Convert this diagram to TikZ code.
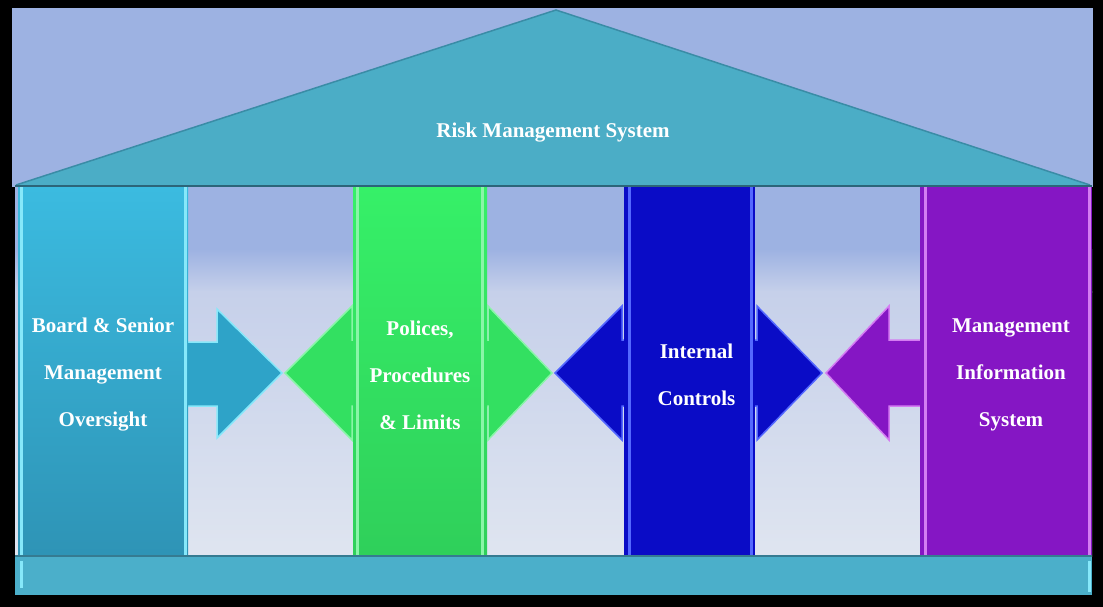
\documentclass[tikz,border=0pt]{standalone}
\usepackage{fontspec}
\setmainfont{Liberation Serif}
\usepackage{tikz}
\definecolor{sky_back}{HTML}{9DB2E2}
\definecolor{sky_low}{HTML}{C6D0EA}
\definecolor{sky_floor}{HTML}{DFE5F0}
\definecolor{roof_teal}{HTML}{4BADC6}
\definecolor{roof_edge}{HTML}{3A8CA6}
\definecolor{beam_dark}{HTML}{2C6579}
\definecolor{base_teal}{HTML}{4BAFCA}
\definecolor{cyan_top}{HTML}{3BBBE0}
\definecolor{cyan_low}{HTML}{2E93B5}
\definecolor{cyan_hi}{HTML}{86E8FA}
\definecolor{cyan_arrow}{HTML}{2EA3C8}
\definecolor{green_top}{HTML}{36F068}
\definecolor{green_low}{HTML}{2FCF5A}
\definecolor{green_hi}{HTML}{8AF5A8}
\definecolor{green_arrow}{HTML}{33E061}
\definecolor{blue_fill}{HTML}{0A0CC6}
\definecolor{blue_hi}{HTML}{5468FF}
\definecolor{purple_fill}{HTML}{8516C4}
\definecolor{purple_hi}{HTML}{D47CF2}
\tikzset{
    pillar/.style={rectangle, inner sep=0pt, minimum height=376pt, align=center, text=white, font=\bfseries\fontsize{21}{47}\selectfont},
    label/.style={text=white, font=\bfseries\fontsize{21}{25}\selectfont},
    flow/.style={line width=1.5pt, line join=miter},
    glint/.style={line width=3pt}
}

\begin{document}
\begin{tikzpicture}[x=1pt, y=-1pt]
        % frame and sky
        \fill[black] (0,0) rectangle (1103,607);
        \useasboundingbox (0,0) rectangle (1103,607);
        \fill[sky_back] (12,8) rectangle (1093,187);
        \fill[sky_back] (15,186) rectangle (1092,250);
        \shade[top color=sky_back, bottom color=sky_low] (15,249) rectangle (1092,292);
        \shade[top color=sky_low, bottom color=sky_floor] (15,291) rectangle (1092,556);

        % roof
        \fill[roof_teal] (16,185) -- (556,10) -- (1090,185) -- cycle;
        \draw[roof_edge, line width=1.5pt] (16,185) -- (556,10) -- (1090,185);
        \node (roof_title) [label] at (553,133) {Risk Management System};

        % arrows between the pillars
        \draw[flow, fill=cyan_arrow, draw=cyan_hi] (185,342) -- (217,342) -- (217,309) -- (282,373) -- (217,438) -- (217,406) -- (185,406) -- cycle;
        \draw[flow, fill=green_arrow, draw=green_hi] (285,373) -- (352,306) -- (352,340) -- (488,340) -- (488,306) -- (552,373) -- (488,440) -- (488,406) -- (352,406) -- (352,440) -- cycle;
        \draw[flow, fill=blue_fill, draw=blue_hi] (555,373) -- (622,306) -- (622,340) -- (757,340) -- (757,306) -- (822,373) -- (757,440) -- (757,406) -- (622,406) -- (622,440) -- cycle;
        \draw[flow, fill=purple_fill, draw=purple_hi] (826,373) -- (889,306) -- (889,340) -- (922,340) -- (922,406) -- (889,406) -- (889,440) -- cycle;

        % pillars
        \node (board) [pillar, minimum width=170pt, top color=cyan_top, bottom color=cyan_low] at (103,375) {Board \& Senior\\Management\\Oversight};
        \node (policies) [pillar, minimum width=134pt, top color=green_top, bottom color=green_low] at (420,375) {Polices,\\Procedures\\\& Limits};
        \node (controls) [pillar, minimum width=131pt, fill=blue_fill] at (689.5,375) {\hspace{14pt}Internal\\\hspace{14pt}Controls};
        \node (mis) [pillar, minimum width=172pt, fill=purple_fill] at (1006,375) {\hspace{10pt}Management\\\hspace{10pt}Information\\\hspace{10pt}System};

        % light edges on the pillars
        \draw[glint, cyan_hi] ([xshift=4pt]board.north west) -- ([xshift=4pt]board.south west);
        \draw[glint, cyan_hi] ([xshift=-3pt]board.north east) -- ([xshift=-3pt]board.south east);
        \draw[glint, green_hi] ([xshift=5pt]policies.north west) -- ([xshift=5pt]policies.south west);
        \draw[glint, green_hi] ([xshift=-5pt]policies.north east) -- ([xshift=-5pt]policies.south east);
        \draw[glint, blue_hi] ([xshift=6pt]controls.north west) -- ([xshift=6pt]controls.south west);
        \draw[glint, blue_hi] ([xshift=-4pt]controls.north east) -- ([xshift=-4pt]controls.south east);
        \draw[glint, purple_hi] ([xshift=6pt]mis.north west) -- ([xshift=6pt]mis.south west);
        \draw[glint, purple_hi] ([xshift=-3pt]mis.north east) -- ([xshift=-3pt]mis.south east);

        % beam under the roof and the base
        \draw[beam_dark, line width=2pt] (15,186) -- (1092,186);
        \fill[base_teal] (15,555) rectangle (1092,595);
        \draw[beam_dark!70!base_teal, line width=1.5pt] (15,556) -- (1092,556);
        \draw[glint, cyan_hi] (21,561) -- (21,588);
        \draw[glint, cyan_hi] (1089,561) -- (1089,592);
    \end{tikzpicture}
\end{document}
